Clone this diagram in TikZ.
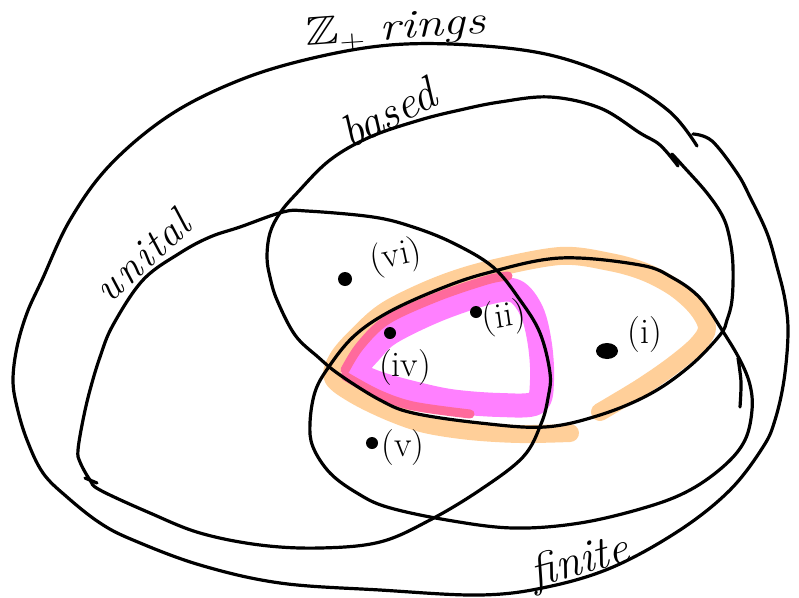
\documentclass[tikz,border=0pt]{standalone}
\usepackage{amssymb}
\definecolor{peach}{HTML}{FFCF99}
\definecolor{pinkhl}{HTML}{FF80FF}
\definecolor{redhl}{HTML}{FF6A9C}
\begin{document}
\begin{tikzpicture}[x=1pt,y=-1pt,
  curve/.style={line width=3.2pt, line cap=round, line join=round},
  hlorange/.style={line width=18pt, draw=peach, line cap=round, line join=round},
  hlpink/.style={line width=24pt, draw=pinkhl, line cap=round, line join=round},
  hlred/.style={line width=9pt, draw=redhl, line cap=round, line join=round},
  lab/.style={font=\fontsize{36}{40}\selectfont, inner sep=0pt},
  biglab/.style={font=\fontsize{46}{54}\selectfont\itshape, inner sep=0pt}]
\useasboundingbox (0,0) rectangle (799,597);
% highlights
\draw[hlorange] plot[smooth, tension=0.55] coordinates {(570,433) (520,434) (470,431) (425,424) (390,412) (355,395) (333,378) (338,358) (358,335) (387,310) (437,286) (487,270) (560,256) (610,262) (645,272) (675,288) (697,308) (707,328) (697,345) (672,366) (640,388) (600,412)};
\draw[hlpink] plot[smooth cycle, tension=0.55] coordinates {(356,371) (370,352) (390,333) (437,310) (487,293) (515,291) (532,312) (540,345) (542,380) (536,403) (500,405) (450,401) (405,391) (372,381)};
\draw[hlred] plot[smooth, tension=0.55] coordinates {(345,370) (360,346) (387,320) (437,297) (487,280) (508,276)};
\draw[hlred] plot[smooth, tension=0.55] coordinates {(345,376) (378,394) (413,406) (470,414)};
% outer: Z+ rings
\draw[curve] plot[smooth, tension=0.6] coordinates {(693,134) (712,141) (737,173) (750,197) (767,233) (777,267) (785,300) (788,333) (784,380) (775,420) (763,447) (730,490) (680,530) (613,567) (547,587) (480,595) (380,590) (280,583) (200,565) (133,540) (100,523) (67,497) (43,473) (27,440) (17,407) (13,380) (17,347) (27,313) (42,280) (70,220) (110,165) (170,115) (240,80) (313,58) (390,45) (470,45) (550,55) (620,80) (670,112) (697,146)};
% based
\draw[curve] plot[smooth, tension=0.6] coordinates {(672,154) (683,166) (707,193) (723,217) (730,240) (733,267) (732,300) (727,320) (720,335) (690,366) (650,394) (600,415) (545,427) (480,423) (413,413) (380,400) (340,375) (318,357) (295,335) (277,300) (270,277) (267,257) (270,233) (280,213) (297,193) (330,160) (370,137) (420,120) (460,110) (500,102) (550,97) (600,108) (640,133) (660,145) (678,166)};
% unital
\draw[curve] plot[smooth cycle, tension=0.6] coordinates {(90,480) (80,462) (78,450) (83,420) (90,390) (100,357) (113,325) (143,280) (180,253) (210,237) (240,227) (283,212) (307,211) (373,217) (413,227) (453,243) (493,267) (520,300) (540,333) (550,373) (548,398) (541,424) (523,457) (480,490) (430,520) (380,542) (320,548) (260,545) (200,533) (150,513) (100,490)};
\draw[curve] (85,478) -- (97,483);
% finite
\draw[curve] plot[smooth cycle, tension=0.6] coordinates {(722,330) (740,360) (750,385) (752,410) (745,440) (725,465) (690,490) (647,507) (580,523) (513,528) (447,520) (387,507) (357,493) (330,473) (313,447) (310,423) (315,392) (328,368) (353,337) (387,313) (437,290) (487,273) (560,258) (640,265) (673,278) (700,298)};
\draw[curve] plot[smooth] coordinates {(738,358) (741,382) (740,407)};
% labels of the sets
\node[font=\fontsize{40}{48}\selectfont, inner sep=0pt, rotate=4] (zr) at (396,30) {\scalebox{1.25}[1]{$\mathbb{Z}$\textsubscript{+} \textit{rings}}};
\node[biglab, rotate=27] (based) at (388,113) {based};
\node[biglab, font=\fontsize{42}{50}\selectfont\itshape, rotate=42] (unital) at (142,256) {u\kern3pt n\kern3pt i\kern2pt t\kern1pt a\kern1pt l};
\node[biglab, rotate=15] (finite) at (580,563) {finite};
% points
\fill (345,279) circle (7pt);
\node[lab, rotate=12] (vi) at (396,257) {(vi)};
\fill (476,312) circle (6pt);
\node[lab, rotate=8] (ii) at (504,318) {(ii)};
\fill (390,333) circle (6pt);
\node[lab] (iv) at (405,368) {(iv)};
\fill (607,351) ellipse (11pt and 8pt);
\node[lab] (i) at (645,335) {(i)};
\fill (372,443) circle (6pt);
\node[lab] (v) at (403,448) {(v)};
\end{tikzpicture}
\end{document}
